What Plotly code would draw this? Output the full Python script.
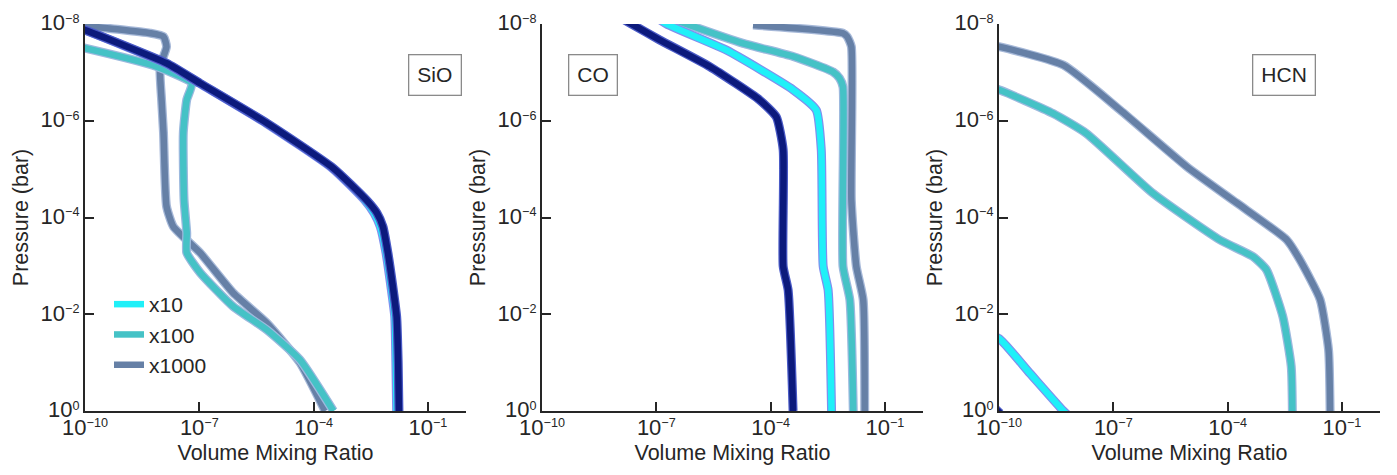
import numpy as np
import plotly.graph_objects as go

# ---------------- data (log10 values) ----------------
series_names = ["x1000", "x100", "x10", "base"]
series_colors = {"x10": "#1ff0f8", "x100": "#45c2c6", "x1000": "#6680a6", "base": "#0c1a7c"}
edge_colors = {"x10": "#8090ee", "x100": "#9cb9de", "x1000": "#a6b8d8", "base": "#4a5ac6"}

# SiO
sio_base_logvmr = [-10.3, -10, -7.856, -6.98, -5.23, -3.49, -2.61, -2.34, -2.18, -2.05, -1.92, -1.82, -1.78, -1.76]
sio_base_logp = [-7.95, -7.876, -7.188, -6.775, -5.955, -5.025, -4.36, -4.095, -3.81, -3.27, -2.57, -1.95, -1.0, 0.0]
sio_x10_logvmr = [-10.3, -10, -7.86, -6.99, -5.25, -3.51, -2.66, -2.41, -2.25, -2.1, -1.97, -1.87, -1.84, -1.82]
sio_x10_logp = [-7.95, -7.87, -7.18, -6.77, -5.95, -5.02, -4.36, -4.09, -3.81, -3.27, -2.57, -1.95, -1.0, 0.0]
sio_x100_logvmr = [-10.3, -10, -8.12, -7.2, -7.33, -7.42, -7.4, -7.33, -7.33, -6.98, -6.11, -5.23, -4.36, -3.48]
sio_x100_logp = [-7.55, -7.5, -7.12, -6.775, -6.43, -5.75, -4.36, -3.68, -3.27, -2.86, -2.16, -1.68, -1.06, 0.0]
sio_x1000_logvmr = [-10.3, -10, -8.29, -7.94, -7.86, -8.03, -7.99, -7.94, -7.86, -7.68, -6.98, -6.11, -5.23, -4.36, -3.7]
sio_x1000_logp = [-7.97, -7.96, -7.81, -7.74, -7.53, -7.12, -6.43, -5.75, -4.23, -3.81, -3.27, -2.44, -1.82, -1.0, 0.0]

# CO
co_base_logvmr = [-8.32, -7.65, -6.91, -5.6, -4.29, -3.85, -3.67, -3.67, -3.54, -3.41]
co_base_logp = [-8.3, -8.0, -7.67, -7.12, -6.43, -6.08, -5.4, -2.99, -2.5, 0.0]
co_x10_logvmr = [-7.3, -6.73, -5.16, -3.41, -2.8, -2.67, -2.62, -2.49, -2.4]
co_x10_logp = [-8.3, -8.0, -7.46, -6.64, -6.22, -5.4, -2.99, -2.5, 0.0]
co_x100_logvmr = [-6.9, -6.21, -4.72, -3.41, -2.36, -2.19, -2.1, -2.1, -1.92, -1.83]
co_x100_logp = [-8.2, -8.0, -7.6, -7.33, -7.01, -6.88, -6.7, -2.99, -2.3, 0.0]
co_x1000_logvmr = [-4.46, -2.1, -1.99, -1.88, -1.88, -1.75, -1.57, -1.53]
co_x1000_logp = [-7.98, -7.81, -7.74, -7.53, -4.36, -2.99, -2.3, 0.0]

# HCN
hcn_base_logvmr = [-10.8, -9.97]
hcn_base_logp = [-0.6, 0.05]
hcn_x10_logvmr = [-10.5, -10, -9.19, -8.31, -8.2]
hcn_x10_logp = [-1.62, -1.5, -0.78, 0.0, 0.08]
hcn_x100_logvmr = [-10.3, -10, -8.58, -7.71, -5.96, -4.21, -3.33, -2.98, -2.55, -2.33, -2.3]
hcn_x100_logp = [-6.69, -6.64, -6.15, -5.74, -4.5, -3.54, -3.19, -2.92, -1.95, -0.92, 0.0]
hcn_x1000_logvmr = [-10.3, -10, -8.31, -6.82, -5.07, -3.76, -2.45, -2.1, -1.57, -1.35, -1.31]
hcn_x1000_logp = [-7.56, -7.53, -7.15, -6.22, -5.05, -4.3, -3.54, -3.12, -2.3, -1.26, 0.0]

species = ["SiO", "CO", "HCN"]
panel_data = {
    "SiO": {"base": (sio_base_logvmr, sio_base_logp), "x10": (sio_x10_logvmr, sio_x10_logp),
            "x100": (sio_x100_logvmr, sio_x100_logp), "x1000": (sio_x1000_logvmr, sio_x1000_logp)},
    "CO": {"base": (co_base_logvmr, co_base_logp), "x10": (co_x10_logvmr, co_x10_logp),
           "x100": (co_x100_logvmr, co_x100_logp), "x1000": (co_x1000_logvmr, co_x1000_logp)},
    "HCN": {"base": (hcn_base_logvmr, hcn_base_logp), "x10": (hcn_x10_logvmr, hcn_x10_logp),
            "x100": (hcn_x100_logvmr, hcn_x100_logp), "x1000": (hcn_x1000_logvmr, hcn_x1000_logp)},
}

x_tick_exponents = [-10, -7, -4, -1]
y_tick_exponents = [-8, -6, -4, -2, 0]


def power_label(e):
    sign = "\u2212" if e < 0 else ""
    return f"<span style='font-size:22px'>10</span><sup>{sign}{abs(e)}</sup>"


x_tickvals = [10.0 ** e for e in x_tick_exponents]
x_ticktext = [power_label(e) for e in x_tick_exponents]
y_tickvals = [10.0 ** e for e in y_tick_exponents]
y_ticktext = [power_label(e) for e in y_tick_exponents]

# ---------------- figure ----------------
# page pixels (reference) -> figure pixels: the page body adds an 8px offset
OFF = 8
PAGE_W, PAGE_H = 1397, 475
W, H = PAGE_W - 2 * OFF, PAGE_H - 2 * OFF
ML, MR, MT, MB = 85 - OFF, PAGE_W - 1380 - OFF, 24 - OFF, PAGE_H - 411 - OFF
PW, PH = W - ML - MR, H - MT - MB


def px_x(p):
    return (p - OFF - ML) / PW


def px_y(p):
    return (MT + PH - (p - OFF)) / PH


x_domains = [[px_x(85), px_x(466)], [px_x(542), px_x(923)], [px_x(999), px_x(1380)]]
label_pos = [px_x(408), px_x(593), px_x(1316)]

FONT = "Liberation Sans, Arial, sans-serif"
AX = "#262626"
TXT = "#262626"

fig = go.Figure()
legend_order = {"x10": 1, "x100": 2, "x1000": 3}
for i, sp in enumerate(species):
    xa = "x" if i == 0 else f"x{i+1}"
    ya = "y" if i == 0 else f"y{i+1}"
    for name in series_names:
        lx, lp = panel_data[sp][name]
        xv = np.power(10.0, np.array(lx))
        pv = np.power(10.0, np.array(lp))
        fig.add_trace(go.Scatter(x=xv, y=pv, mode="lines", xaxis=xa, yaxis=ya,
                                 line=dict(color=edge_colors[name], width=9, shape="spline", smoothing=0.5),
                                 showlegend=False, hoverinfo="skip"))
        show = (i == 0 and name != "base")
        fig.add_trace(go.Scatter(x=xv, y=pv, mode="lines", xaxis=xa, yaxis=ya, name=name,
                                 line=dict(color=series_colors[name], width=6.5, shape="spline", smoothing=0.5),
                                 showlegend=show, legendrank=legend_order.get(name, 10)))

layout = dict(
    width=W, height=H,
    margin=dict(l=ML, r=MR, t=MT, b=MB, autoexpand=False),
    paper_bgcolor="white", plot_bgcolor="white",
    font=dict(family=FONT, size=21, color=TXT),
    showlegend=True,
    legend=dict(x=px_x(109), y=px_y(284), xanchor="left", yanchor="top",
                bgcolor="rgba(0,0,0,0)", font=dict(size=21, family=FONT, color=TXT),
                itemwidth=30),
    annotations=[],
)
for i, sp in enumerate(species):
    sx = "" if i == 0 else str(i + 1)
    layout[f"xaxis{sx}"] = dict(
        type="log", range=[-10, 0], domain=x_domains[i], anchor=f"y{sx}", automargin=False,
        tickvals=x_tickvals, ticktext=x_ticktext, ticks="inside", ticklen=9, tickwidth=2,
        tickcolor=AX, showline=True, linecolor=AX, linewidth=2, showgrid=False, zeroline=False,
        tickfont=dict(size=18, family=FONT, color=TXT),
        title=dict(text="Volume Mixing Ratio", font=dict(size=21.5, family=FONT, color=TXT), standoff=6),
    )
    layout[f"yaxis{sx}"] = dict(
        type="log", range=[0, -8], domain=[0, 1], anchor=f"x{sx}", automargin=False,
        tickvals=y_tickvals, ticktext=y_ticktext, ticks="inside", ticklen=9, tickwidth=2,
        tickcolor=AX, showline=True, linecolor=AX, linewidth=2, showgrid=False, zeroline=False,
        tickfont=dict(size=18, family=FONT, color=TXT),
        title=dict(text="Pressure (bar)", font=dict(size=21.5, family=FONT, color=TXT), standoff=6),
    )
    layout["annotations"].append(dict(
        text=sp, x=label_pos[i], y=px_y(54), xref="paper", yref="paper",
        showarrow=False, font=dict(size=21, family=FONT, color=TXT),
        bordercolor="#8a8a8a", borderwidth=1.3, borderpad=8, bgcolor="white",
    ))

fig.update_layout(**layout)
fig.write_html("out.html")
